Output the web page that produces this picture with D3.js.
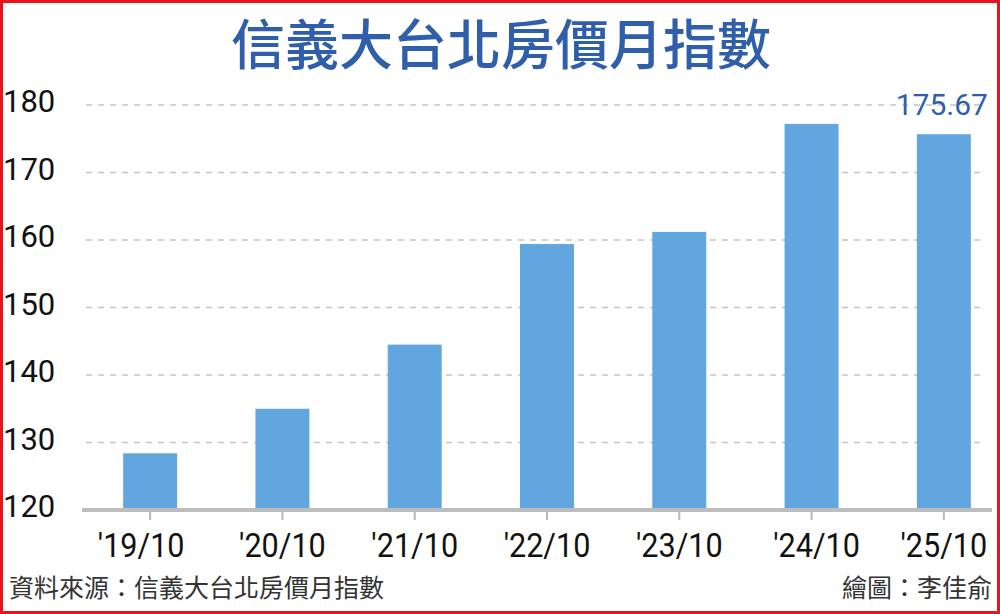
<!DOCTYPE html>
<html>
<head>
<meta charset="utf-8">
<script src="https://cdn.jsdelivr.net/npm/d3@7"></script>
<style>
  html, body { margin: 0; padding: 0; background: #fff; }
  svg { display: block; }
</style>
</head>
<body>
<div id="chart"></div>
<script>
// data
const periods = ["'19/10", "'20/10", "'21/10", "'22/10", "'23/10", "'24/10", "'25/10"];
const indexValues = [128.4, 135.0, 144.5, 159.4, 161.2, 177.2, 175.67];
const yTicks = [120, 130, 140, 150, 160, 170, 180];

const titleText = "信義大台北房價月指數";
const sourceText = "資料來源：信義大台北房價月指數";
const creditText = "繪圖：李佳俞";

const W = 1000, H = 614;
const numFont = "Roboto, 'Noto Sans', sans-serif";
const cjkFont = "'Noto Sans CJK TC', 'Noto Sans CJK SC', sans-serif";
const blue = "#2f5fab";

const svg = d3.select("#chart")
  .append("svg")
  .attr("width", W)
  .attr("height", H);

// red frame
svg.append("rect")
  .attr("x", 1.5).attr("y", 1.5)
  .attr("width", W - 3).attr("height", H - 3)
  .attr("fill", "#fff")
  .attr("stroke", "#e8141c")
  .attr("stroke-width", 3);

// scales
const x = d3.scaleBand()
  .domain(periods)
  .range([84, 1010])
  .paddingInner(0.592)
  .paddingOuter(0.296);

const y = d3.scaleLinear().domain([120, 180]).range([510, 105]);

// title
svg.append("text")
  .attr("x", 501)
  .attr("y", 65)
  .attr("text-anchor", "middle")
  .attr("font-family", cjkFont)
  .attr("font-weight", 500)
  .attr("font-size", 54)
  .attr("fill", blue)
  .text(titleText);

// gridlines (dashed)
svg.append("g")
  .selectAll("line")
  .data(yTicks.filter(d => d > 120))
  .join("line")
  .attr("x1", 86)
  .attr("x2", 986)
  .attr("y1", d => y(d))
  .attr("y2", d => y(d))
  .attr("stroke", "#c4c4c4")
  .attr("stroke-width", 1.5)
  .attr("stroke-dasharray", "6,6");

// y labels
svg.append("g")
  .selectAll("text")
  .data(yTicks)
  .join("text")
  .attr("x", 3)
  .attr("y", d => y(d) + 7)
  .attr("font-family", numFont)
  .attr("font-size", 31)
  .attr("fill", "#111")
  .text(d => d);

// bars
svg.append("g")
  .selectAll("rect")
  .data(indexValues)
  .join("rect")
  .attr("x", (d, i) => x(periods[i]))
  .attr("y", d => y(d))
  .attr("width", x.bandwidth())
  .attr("height", d => y(120) - y(d))
  .attr("fill", "#62a6e0");

// x axis
const xAxis = d3.axisBottom(x).tickSize(10).tickPadding(0).tickSizeOuter(0);
const gx = svg.append("g")
  .attr("transform", "translate(0," + y(120) + ")")
  .call(xAxis);
gx.select(".domain").remove();
gx.selectAll(".tick line")
  .attr("stroke", "#b8b8b8")
  .attr("stroke-width", 2);
// labels are a bit condensed in the original
const labelShift = [-9, 0, 0, 0, 0, 5, 0];
gx.selectAll(".tick text")
  .attr("y", 0)
  .attr("dy", 0)
  .attr("transform", (d, i) => "translate(" + labelShift[i] + ",47) scale(0.9,1)")
  .attr("font-family", numFont)
  .attr("font-size", 34)
  .attr("fill", "#111");

// baseline
svg.append("line")
  .attr("x1", 82).attr("x2", 992)
  .attr("y1", y(120)).attr("y2", y(120))
  .attr("stroke", "#bdbdbd")
  .attr("stroke-width", 4);

// last value label
const last = indexValues.length - 1;
svg.append("text")
  .attr("x", x(periods[last]) + x.bandwidth() / 2 - 2)
  .attr("y", y(180) + 10)
  .attr("text-anchor", "middle")
  .attr("font-family", numFont)
  .attr("font-size", 30)
  .attr("fill", blue)
  .text(indexValues[last].toFixed(2));

// footer
svg.append("text")
  .attr("x", 9)
  .attr("y", 597)
  .attr("font-family", cjkFont)
  .attr("font-size", 25)
  .attr("fill", "#333")
  .text(sourceText);

svg.append("text")
  .attr("x", 992)
  .attr("y", 597)
  .attr("text-anchor", "end")
  .attr("font-family", cjkFont)
  .attr("font-size", 25)
  .attr("fill", "#333")
  .text(creditText);
</script>
</body>
</html>
